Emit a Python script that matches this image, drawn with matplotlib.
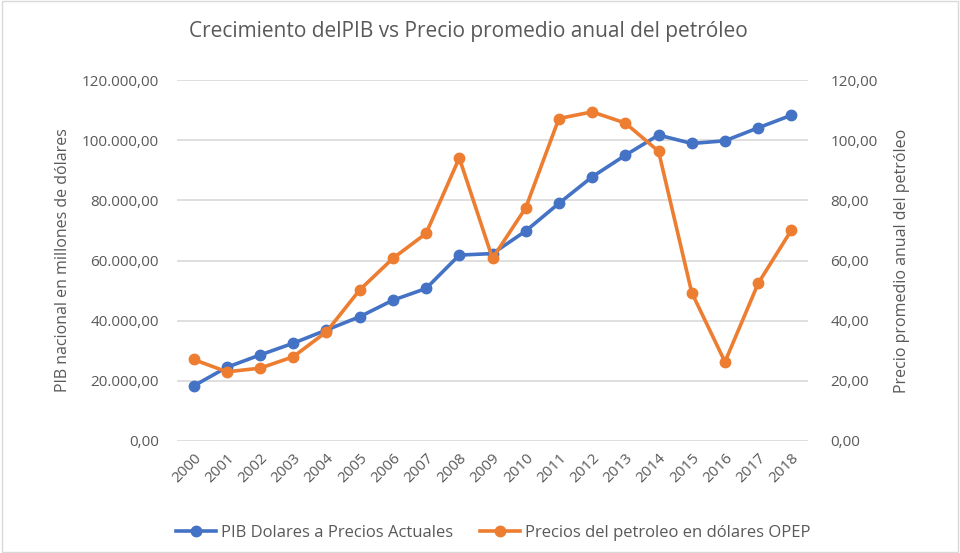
import matplotlib
matplotlib.use("Agg")
import matplotlib.pyplot as plt
from matplotlib.ticker import FuncFormatter
from matplotlib.patches import Rectangle

years = [str(y) for y in range(2000, 2019)]
pib = [18300, 24500, 28600, 32500, 36900, 41300, 46800, 50700, 61800, 62300,
       69800, 79000, 87800, 95000, 101700, 98900, 99800, 104100, 108300]
petroleo = [27.1, 23.0, 24.2, 28.0, 36.3, 50.2, 60.7, 69.0, 94.1, 60.7,
            77.5, 107.2, 109.4, 105.7, 96.3, 49.3, 26.3, 52.4, 70.1]

title = "Crecimiento delPIB vs Precio promedio anual del petróleo"
ylabel_left = "PIB nacional en millones de dólares"
ylabel_right = "Precio promedio anual del petróleo"
label_pib = "PIB Dolares a Precios Actuales"
label_pet = "Precios del petroleo en dólares OPEP"

plt.rcParams['font.family'] = ['Open Sans', 'DejaVu Sans']
txt = '#595959'
blue = '#4472C4'
orange = '#ED7D31'

fig = plt.figure(figsize=(9.6, 5.53), dpi=100)
ax = fig.add_axes([177/960, 1-441/553, (808-177)/960, (441-80)/553])
ax2 = ax.twinx()

x = list(range(len(years)))
l1, = ax.plot(x, pib, color=blue, lw=2.6, marker='o', ms=7.5, label=label_pib, zorder=3)
l2, = ax2.plot(x, petroleo, color=orange, lw=2.6, marker='o', ms=7.5, label=label_pet, zorder=3)

ax.set_ylim(0, 120000)
ax2.set_ylim(0, 120)
ax.set_xlim(-0.5, len(years) - 0.5)
ax.set_yticks(range(0, 120001, 20000))
ax2.set_yticks(range(0, 121, 20))

def fmt_left(v, p):
    s = f"{v:,.2f}"
    return s.replace(",", "X").replace(".", ",").replace("X", ".")
def fmt_right(v, p):
    return f"{v:.2f}".replace(".", ",")
ax.yaxis.set_major_formatter(FuncFormatter(fmt_left))
ax2.yaxis.set_major_formatter(FuncFormatter(fmt_right))

ax.set_xticks(x)
ax.set_xticklabels(years, rotation=45, ha='right', rotation_mode='anchor')

for a in (ax, ax2):
    for s in a.spines.values():
        s.set_visible(False)
    a.tick_params(length=0, colors=txt, labelsize=11)
ax.tick_params(axis='y', pad=13)
ax2.tick_params(axis='y', pad=16)
ax.tick_params(axis='x', pad=7)
ax.grid(axis='y', color='#d9d9d9', lw=1.2)
ax.set_axisbelow(True)

ax.set_ylabel(ylabel_left, color=txt, fontsize=11.5, labelpad=8)
ax2.set_ylabel(ylabel_right, color=txt, fontsize=11.5, labelpad=12)

fig.text(468/960, 1 - 31/553, title, ha='center', va='center', color=txt, fontsize=15)

fig.legend([l1, l2], [label_pib, label_pet], loc='center', bbox_to_anchor=(493/960, 1 - 533/553),
           ncol=2, frameon=False, fontsize=12, labelcolor=txt, handlelength=2.4,
           handletextpad=0.3, columnspacing=1.6)

fig.patches.append(Rectangle((0.002, 0.002), 0.996, 0.996, transform=fig.transFigure,
                             fill=False, edgecolor='#d9d9d9', lw=1))

fig.savefig("out.png", dpi=100)
